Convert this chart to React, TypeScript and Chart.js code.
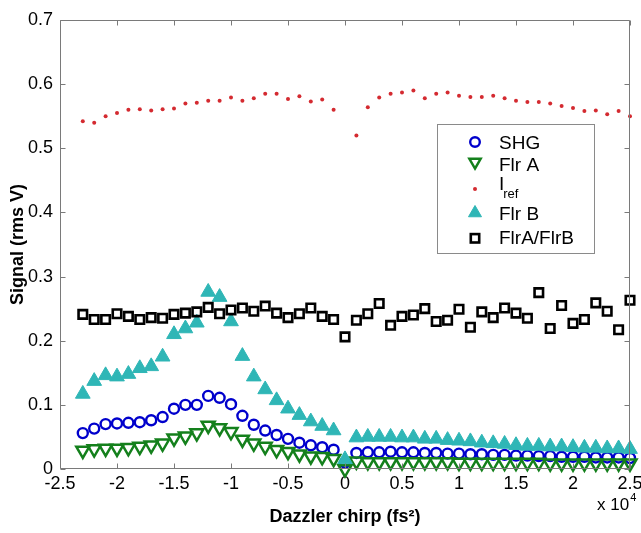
import React, { useEffect, useRef } from "react";
import { Chart, registerables } from "chart.js";

Chart.register(...registerables);

// Dazzler chirp (x 10^4 fs^2)
const chirp = [
  -2.3, -2.2, -2.1, -2.0, -1.9, -1.8, -1.7, -1.6, -1.5, -1.4, -1.3, -1.2, -1.1, -1.0,
  -0.9, -0.8, -0.7, -0.6, -0.5, -0.4, -0.3, -0.2, -0.1, 0.0, 0.1, 0.2, 0.3, 0.4, 0.5,
  0.6, 0.7, 0.8, 0.9, 1.0, 1.1, 1.2, 1.3, 1.4, 1.5, 1.6, 1.7, 1.8, 1.9, 2.0, 2.1, 2.2,
  2.3, 2.4, 2.5,
];

const shg = [
  0.056, 0.063, 0.07, 0.071, 0.072, 0.073, 0.076, 0.081, 0.094, 0.1, 0.1, 0.114, 0.111, 0.101,
  0.083, 0.069, 0.06, 0.053, 0.047, 0.041, 0.037, 0.034, 0.03, 0.01, 0.025, 0.026, 0.026, 0.027, 0.026,
  0.026, 0.025, 0.025, 0.024, 0.024, 0.023, 0.023, 0.022, 0.022, 0.021, 0.021, 0.02, 0.02, 0.019, 0.019, 0.019, 0.018,
  0.018, 0.018, 0.017,
];

const flrA = [
  0.029, 0.031, 0.032, 0.032, 0.033, 0.035, 0.037, 0.04, 0.048, 0.051, 0.056, 0.068, 0.064, 0.058,
  0.046, 0.04, 0.035, 0.03, 0.027, 0.023, 0.02, 0.019, 0.016, 0.0, 0.012, 0.011, 0.011, 0.011, 0.011,
  0.011, 0.011, 0.011, 0.011, 0.01, 0.01, 0.01, 0.01, 0.01, 0.01, 0.01, 0.01, 0.009, 0.009, 0.009, 0.009, 0.009,
  0.009, 0.009, 0.009,
];

const iref = [
  0.542, 0.54, 0.55, 0.555, 0.56, 0.561, 0.559, 0.561, 0.562, 0.57, 0.571, 0.574, 0.574, 0.579,
  0.574, 0.578, 0.585, 0.585, 0.577, 0.581, 0.573, 0.576, 0.56, null, 0.52, 0.564, 0.579, 0.585, 0.587,
  0.59, 0.578, 0.585, 0.587, 0.582, 0.58, 0.58, 0.582, 0.578, 0.574, 0.572, 0.572, 0.57, 0.566, 0.563, 0.558, 0.559,
  0.553, 0.558, 0.55,
];

const flrB = [
  0.117, 0.137, 0.146, 0.144, 0.148, 0.157, 0.16, 0.175, 0.21, 0.219, 0.228, 0.276, 0.268, 0.23,
  0.176, 0.144, 0.124, 0.107, 0.094, 0.084, 0.074, 0.067, 0.06, 0.015, 0.049, 0.05, 0.05, 0.05, 0.049,
  0.049, 0.047, 0.047, 0.045, 0.044, 0.043, 0.041, 0.04, 0.039, 0.037, 0.036, 0.036, 0.035, 0.035, 0.034, 0.033, 0.033,
  0.032, 0.032, 0.031,
];

const ratio = [
  0.241, 0.233, 0.233, 0.242, 0.238, 0.233, 0.236, 0.235, 0.241, 0.243, 0.245, 0.252, 0.242, 0.248,
  0.251, 0.246, 0.254, 0.243, 0.236, 0.242, 0.251, 0.238, 0.233, 0.206, 0.232, 0.242, 0.258, 0.224, 0.238,
  0.24, 0.25, 0.23, 0.232, 0.249, 0.221, 0.245, 0.236, 0.251, 0.243, 0.235, 0.275, 0.219, 0.255, 0.227, 0.233, 0.259,
  0.246, 0.217, 0.263,
];

const xTicks = [-2.5, -2, -1.5, -1, -0.5, 0, 0.5, 1, 1.5, 2, 2.5];
const xTickLabels = ["-2.5", "-2", "-1.5", "-1", "-0.5", "0", "0.5", "1", "1.5", "2", "2.5"];
const yTicks = [0, 0.1, 0.2, 0.3, 0.4, 0.5, 0.6, 0.7];
const yTickLabels = ["0", "0.1", "0.2", "0.3", "0.4", "0.5", "0.6", "0.7"];

const FONT = "'Liberation Sans', Arial, Helvetica, sans-serif";
const AXIS_COLOR = "#7a7a7a";
const C_SHG = "#0000cc";
const C_FLRA = "#14801c";
const C_IREF = "#d42a30";
const C_FLRB = "#2fb6b6";
const C_RATIO = "#000000";

function pts(arr: (number | null)[]) {
  return chirp.map((x, i) => ({ x, y: arr[i] }));
}

function triPath(ctx: CanvasRenderingContext2D, x: number, y: number, r: number, down: boolean) {
  const s = down ? -1 : 1;
  ctx.beginPath();
  ctx.moveTo(x, y - s * r);
  ctx.lineTo(x + r * Math.sin((2 * Math.PI) / 3), y + s * r / 2);
  ctx.lineTo(x - r * Math.sin((2 * Math.PI) / 3), y + s * r / 2);
  ctx.closePath();
}

const framePlugin = {
  id: "frame",
  afterDatasetsDraw(chart: any) {
    const { ctx, chartArea } = chart;
    const { left, right, top, bottom } = chartArea;
    const xs = chart.scales.x;
    const ys = chart.scales.y;
    ctx.save();
    ctx.strokeStyle = AXIS_COLOR;
    ctx.lineWidth = 1;
    const L = Math.round(left) + 0.5;
    const R = Math.round(right) - 0.5;
    const T = Math.round(top) + 0.5;
    const B = Math.round(bottom) - 0.5;
    ctx.beginPath();
    ctx.rect(L, T, R - L, B - T);
    ctx.stroke();
    const tl = 5;
    ctx.beginPath();
    xTicks.forEach((v) => {
      const px = Math.round(xs.getPixelForValue(v)) + 0.5;
      ctx.moveTo(px, B);
      ctx.lineTo(px, B - tl);
      ctx.moveTo(px, T);
      ctx.lineTo(px, T + tl);
    });
    yTicks.forEach((v) => {
      const py = Math.round(ys.getPixelForValue(v)) + 0.5;
      ctx.moveTo(L, py);
      ctx.lineTo(L + tl, py);
      ctx.moveTo(R, py);
      ctx.lineTo(R - tl, py);
    });
    ctx.stroke();

    // exponent label "x 10^4"
    ctx.fillStyle = "#000";
    ctx.textBaseline = "alphabetic";
    ctx.textAlign = "left";
    ctx.font = `17px ${FONT}`;
    const ex = 597;
    const ey = 510;
    ctx.fillText("x 10", ex, ey);
    const w = ctx.measureText("x 10").width;
    ctx.font = `11px ${FONT}`;
    ctx.fillText("4", ex + w + 1, ey - 9);

    // legend
    const bx = 437, by = 124, bw = 157, bh = 129;
    ctx.fillStyle = "#ffffff";
    ctx.fillRect(bx, by, bw, bh);
    ctx.strokeStyle = "#8a8a8a";
    ctx.lineWidth = 1;
    ctx.strokeRect(bx + 0.5, by + 0.5, bw, bh);
    const mx = 475;
    const tx = 499;
    ctx.font = `19px ${FONT}`;
    ctx.fillStyle = "#000";
    // SHG
    ctx.strokeStyle = C_SHG;
    ctx.lineWidth = 2.4;
    ctx.beginPath();
    ctx.arc(mx, 142, 4.8, 0, Math.PI * 2);
    ctx.stroke();
    ctx.fillText("SHG", tx, 148.5);
    // Flr A
    ctx.strokeStyle = C_FLRA;
    ctx.lineWidth = 2.5;
    triPath(ctx, mx, 162, 6.5, true);
    ctx.stroke();
    ctx.fillText("Flr A", tx, 171);
    // I_ref
    ctx.fillStyle = C_IREF;
    ctx.beginPath();
    ctx.arc(mx, 189, 2, 0, Math.PI * 2);
    ctx.fill();
    ctx.fillStyle = "#000";
    ctx.fillText("I", tx, 190);
    const iw = ctx.measureText("I").width;
    ctx.font = `13px ${FONT}`;
    ctx.fillText("ref", tx + iw - 1, 198);
    ctx.font = `19px ${FONT}`;
    // Flr B
    ctx.fillStyle = C_FLRB;
    ctx.strokeStyle = C_FLRB;
    ctx.lineWidth = 1;
    triPath(ctx, mx, 213, 7.5, false);
    ctx.fill();
    ctx.stroke();
    ctx.fillStyle = "#000";
    ctx.fillText("Flr B", tx, 219.5);
    // FlrA/FlrB
    ctx.strokeStyle = C_RATIO;
    ctx.lineWidth = 2.6;
    ctx.strokeRect(mx - 4.2, 238.3 - 4.2, 8.4, 8.4);
    ctx.fillText("FlrA/FlrB", tx, 244);
    ctx.restore();
  },
};

export default function App() {
  const ref = useRef<HTMLCanvasElement | null>(null);

  useEffect(() => {
    if (!ref.current) return;
    const chart = new Chart(ref.current, {
      type: "scatter",
      data: {
        datasets: [
          {
            label: "SHG",
            data: pts(shg),
            order: 5,
            pointStyle: "circle",
            pointRadius: 5,
            pointBorderWidth: 2.4,
            pointBorderColor: C_SHG,
            pointBackgroundColor: "rgba(255,255,255,0)",
            showLine: false,
            clip: false,
          },
          {
            label: "Flr A",
            data: pts(flrA),
            order: 4,
            pointStyle: "triangle",
            pointRotation: 180,
            pointRadius: 7.5,
            pointBorderWidth: 2.5,
            pointBorderColor: C_FLRA,
            pointBackgroundColor: "rgba(255,255,255,0)",
            showLine: false,
            clip: false,
          },
          {
            label: "Iref",
            data: pts(iref),
            order: 3,
            pointStyle: "circle",
            pointRadius: 2,
            pointBorderWidth: 0,
            pointBorderColor: C_IREF,
            pointBackgroundColor: C_IREF,
            showLine: false,
            clip: false,
          },
          {
            label: "Flr B",
            data: pts(flrB),
            order: 2,
            pointStyle: "triangle",
            pointRadius: 8.5,
            pointBorderWidth: 1,
            pointBorderColor: C_FLRB,
            pointBackgroundColor: C_FLRB,
            showLine: false,
            clip: false,
          },
          {
            label: "FlrA/FlrB",
            data: pts(ratio),
            order: 1,
            pointStyle: "rect",
            pointRadius: 6,
            pointBorderWidth: 2.6,
            pointBorderColor: C_RATIO,
            pointBackgroundColor: "rgba(255,255,255,0)",
            showLine: false,
            clip: false,
          },
        ] as any,
      },
      options: {
        animation: false,
        responsive: false,
        devicePixelRatio: 1,
        layout: { padding: { left: 0, right: 11, top: 20, bottom: 0 } },
        plugins: { legend: { display: false }, tooltip: { enabled: false } },
        elements: { point: { hoverRadius: 0 } },
        scales: {
          x: {
            type: "linear",
            min: -2.5,
            max: 2.5,
            afterBuildTicks: (s: any) => {
              s.ticks = xTicks.map((v) => ({ value: v }));
            },
            afterFit: (s: any) => {
              s.height = 64;
              s.paddingLeft = 0;
              s.paddingRight = 0;
            },
            grid: { display: false, drawTicks: false },
            border: { display: false },
            ticks: {
              autoSkip: false,
              maxRotation: 0,
              padding: 4,
              color: "#000",
              font: { family: FONT, size: 18 },
              callback: (v: any) => {
                const i = xTicks.findIndex((t) => Math.abs(t - Number(v)) < 1e-9);
                return i >= 0 ? xTickLabels[i] : "";
              },
            },
            title: {
              display: true,
              text: "Dazzler chirp (fs²)",
              color: "#000",
              font: { family: FONT, size: 18, weight: "bold" },
              padding: { top: 0, bottom: 5 },
            },
          },
          y: {
            type: "linear",
            min: 0,
            max: 0.7,
            afterBuildTicks: (s: any) => {
              s.ticks = yTicks.map((v) => ({ value: v }));
            },
            afterFit: (s: any) => {
              s.width = 60;
              s.paddingTop = 0;
              s.paddingBottom = 0;
            },
            grid: { display: false, drawTicks: false },
            border: { display: false },
            ticks: {
              autoSkip: false,
              padding: 7,
              color: "#000",
              font: { family: FONT, size: 18 },
              callback: (v: any) => {
                const i = yTicks.findIndex((t) => Math.abs(t - Number(v)) < 1e-9);
                return i >= 0 ? yTickLabels[i] : "";
              },
            },
            title: {
              display: true,
              text: "Signal (rms V)",
              color: "#000",
              font: { family: FONT, size: 18, weight: "bold" },
              padding: { top: 7, bottom: 0 },
            },
          },
        },
      } as any,
      plugins: [framePlugin],
    });
    return () => chart.destroy();
  }, []);

  return (
    <div style={{ position: "absolute", left: 0, top: 0, width: 641, height: 533, background: "#fff" }}>
      <canvas ref={ref} width={641} height={533} style={{ display: "block" }} />
    </div>
  );
}
